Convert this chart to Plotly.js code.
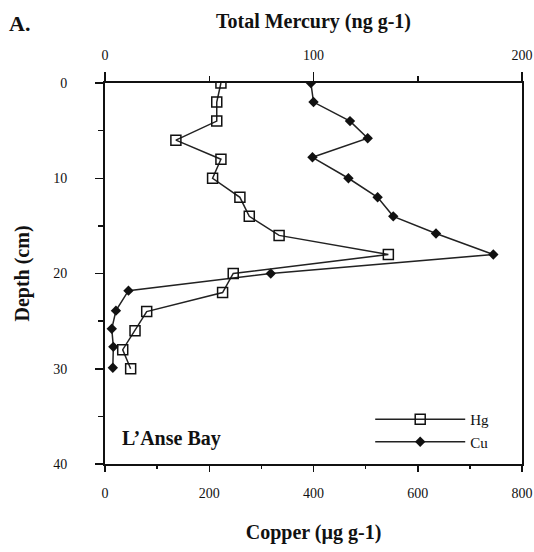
<!DOCTYPE html>
<html>
<head>
<meta charset="utf-8">
<script src="https://cdn.plot.ly/plotly-3.0.1.min.js"></script>
<style>html,body{margin:0;padding:0;background:#fff;}#chart{width:534px;height:552px;}</style>
</head>
<body>
<div id="chart"></div>
<script>
// Total mercury (ng g-1) vs depth (cm)
const hgDepth = [0, 2, 4, 6, 8, 10, 12, 14, 16, 18, 20, 22, 24, 26, 28, 30];
const hgValues = [55.6, 53.6, 53.6, 34.0, 55.6, 51.6, 64.7, 69.2, 83.5, 135.9, 61.5, 56.4, 20, 14.4, 8.5, 12.3];
// Copper (µg g-1) vs depth (cm)
const cuDepth = [0, 2, 4, 5.8, 7.8, 10, 12, 14, 15.8, 18, 20, 21.8, 23.9, 25.8, 27.7, 29.9];
const cuValues = [395, 400, 470, 504, 398, 467, 523, 553, 635, 745, 318, 45, 21, 13, 16, 15];

const serif = "Liberation Serif, Times New Roman, serif";

const traces = [
  {
    x: hgValues, y: hgDepth, xaxis: 'x2', yaxis: 'y', name: 'Hg',
    mode: 'lines+markers',
    line: {color: '#222', width: 1.5},
    marker: {symbol: 'square-open', size: 10, color: '#111', line: {width: 1.5, color: '#111'}}
  },
  {
    x: cuValues, y: cuDepth, xaxis: 'x', yaxis: 'y', name: 'Cu',
    mode: 'lines+markers',
    line: {color: '#222', width: 1.5},
    marker: {symbol: 'diamond', size: 8, color: '#111'}
  }
];

const axisCommon = {
  showline: true, linecolor: '#111', linewidth: 2,
  showgrid: false, zeroline: false,
  ticks: 'outside', tickcolor: '#111', tickwidth: 1.5,
  tickfont: {family: serif, size: 14, color: '#111'}
};

const layout = {
  width: 534, height: 552,
  margin: {l: 105, r: 12, t: 83, b: 88},
  paper_bgcolor: '#fff', plot_bgcolor: '#fff',
  showlegend: true,
  legend: {
    x: 0.636, y: 0.16, xanchor: 'left', yanchor: 'top',
    bgcolor: 'rgba(0,0,0,0)', itemwidth: 90,
    font: {family: serif, size: 15, color: '#111'}
  },
  xaxis: Object.assign({}, axisCommon, {
    range: [0, 800], side: 'bottom', anchor: 'y',
    tickvals: [0, 200, 400, 600, 800], ticklen: 6,
    minor: {dtick: 100, ticks: 'outside', ticklen: 3, tickcolor: '#111', tickwidth: 1.5, showgrid: false},
    ticklabelstandoff: 9,
    title: {text: '<b>Copper (µg g-1)</b>', font: {family: serif, size: 20, color: '#111'}, standoff: 25}
  }),
  xaxis2: Object.assign({}, axisCommon, {
    range: [0, 200], side: 'top', overlaying: 'x', anchor: 'y',
    tickvals: [0, 100, 200], ticklen: 9,
    minor: {dtick: 50, ticks: 'outside', ticklen: 5, tickcolor: '#111', tickwidth: 1.5, showgrid: false},
    ticklabelstandoff: 6,
    title: {text: '<b>Total Mercury (ng g-1)</b>', font: {family: serif, size: 20, color: '#111'}, standoff: 14}
  }),
  yaxis: Object.assign({}, axisCommon, {
    range: [40, 0], mirror: true,
    tickvals: [0, 10, 20, 30, 40], ticklen: 8,
    minor: {dtick: 5, ticks: 'outside', ticklen: 5, tickcolor: '#111', tickwidth: 1.5, showgrid: false},
    ticklabelstandoff: 25,
    title: {text: '<b>Depth (cm)</b>', font: {family: serif, size: 20, color: '#111'}, standoff: 18}
  }),
  annotations: [
    {text: '<b>A.</b>', xref: 'paper', yref: 'paper', x: -0.235, y: 1.155, xanchor: 'left', yanchor: 'middle',
     showarrow: false, font: {family: serif, size: 22, color: '#111'}},
    {text: '<b>L’Anse Bay</b>', xref: 'paper', yref: 'paper', x: 0.035, y: 0.068, xanchor: 'left', yanchor: 'middle',
     showarrow: false, font: {family: serif, size: 20, color: '#111'}}
  ]
};

Plotly.newPlot('chart', traces, layout, {displayModeBar: false, staticPlot: true});
</script>
</body>
</html>
